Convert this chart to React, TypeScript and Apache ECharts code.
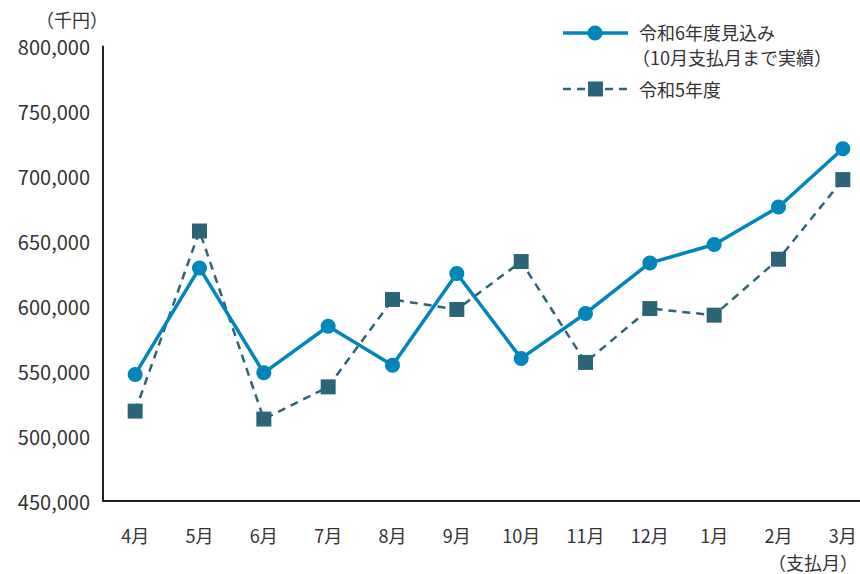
import React, { useEffect, useRef } from "react";
import * as echarts from "echarts";

const categories = ["4月", "5月", "6月", "7月", "8月", "9月", "10月", "11月", "12月", "1月", "2月", "3月"];
const seriesR6 = [547500, 629500, 548700, 584600, 554600, 625200, 559800, 594400, 633300, 647500, 676400, 721300];
const seriesR5 = [519200, 657900, 513100, 537900, 605200, 597500, 634400, 556700, 598200, 593100, 636200, 697500];
const yTicks = { min: 450000, max: 800000, interval: 50000 };
const legendR6 = ["令和6年度見込み", "（10月支払月まで実績）"];
const legendR5 = "令和5年度";
const unitLabel = "（千円）";
const xUnitLabel = "（支払月）";

const BLUE = "#0086BA";
const TEAL = "#2C6579";
const FONT = "'Noto Sans CJK JP', 'Noto Sans', sans-serif";
const TEXT = "#333333";

export default function App() {
  const ref = useRef<HTMLDivElement>(null);
  useEffect(() => {
    if (!ref.current) return;
    const chart = echarts.init(ref.current, undefined, { renderer: "svg" });
    chart.setOption({
      animation: false,
      backgroundColor: "#ffffff",
      textStyle: { fontFamily: FONT },
      grid: { left: 103, right: 5, top: 46.5, bottom: 73, containLabel: false },
      xAxis: {
        type: "category",
        data: categories,
        boundaryGap: true,
        axisLine: { lineStyle: { color: "#231f20", width: 2 } },
        axisTick: { show: false },
        axisLabel: { color: TEXT, fontSize: 18, margin: 25, fontFamily: FONT },
        splitLine: { show: false },
      },
      yAxis: {
        type: "value",
        min: yTicks.min,
        max: yTicks.max,
        interval: yTicks.interval,
        axisLine: { show: true, lineStyle: { color: "#231f20", width: 2 } },
        axisTick: { show: false },
        splitLine: { show: false },
        axisLabel: {
          color: TEXT,
          fontSize: 20,
          margin: 13,
          fontFamily: FONT,
          formatter: (v: number) => v.toLocaleString("en-US"),
        },
      },
      series: [
        {
          name: legendR5,
          type: "line",
          data: seriesR5,
          symbol: "rect",
          symbolSize: 15,
          lineStyle: { color: TEAL, width: 2.5, type: [8, 6] },
          itemStyle: { color: TEAL },
          z: 2,
        },
        {
          name: legendR6[0],
          type: "line",
          data: seriesR6,
          symbol: "circle",
          symbolSize: 15,
          lineStyle: { color: BLUE, width: 3.5 },
          itemStyle: { color: BLUE },
          z: 3,
        },
      ],
      graphic: [
        {
          type: "text",
          x: 36,
          y: 10,
          style: { text: unitLabel, fill: TEXT, fontSize: 18, fontFamily: FONT },
        },
        {
          type: "text",
          x: 858,
          y: 562,
          style: { text: xUnitLabel, fill: TEXT, fontSize: 18, lineHeight: 20, fontFamily: FONT, align: "right", verticalAlign: "middle" },
        },
        {
          type: "line",
          shape: { x1: 563, y1: 33, x2: 628, y2: 33 },
          style: { stroke: BLUE, lineWidth: 3.5 },
        },
        {
          type: "circle",
          shape: { cx: 595, cy: 33, r: 7.5 },
          style: { fill: BLUE },
        },
        {
          type: "text",
          x: 639,
          y: 32,
          style: { text: legendR6[0], fill: TEXT, fontSize: 18, lineHeight: 20, fontFamily: FONT, verticalAlign: "middle" },
        },
        {
          type: "text",
          x: 632,
          y: 57,
          style: { text: legendR6[1], fill: TEXT, fontSize: 18, lineHeight: 20, fontFamily: FONT, verticalAlign: "middle" },
        },
        {
          type: "line",
          shape: { x1: 563, y1: 89, x2: 628, y2: 89 },
          style: { stroke: TEAL, lineWidth: 2.5, lineDash: [8, 6] },
        },
        {
          type: "rect",
          shape: { x: 588, y: 81.5, width: 15, height: 15 },
          style: { fill: TEAL },
        },
        {
          type: "text",
          x: 639,
          y: 89,
          style: { text: legendR5, fill: TEXT, fontSize: 18, lineHeight: 20, fontFamily: FONT, verticalAlign: "middle" },
        },
      ],
    });
    return () => chart.dispose();
  }, []);
  return (
    <div style={{ position: "fixed", left: 0, top: 0, width: 860, height: 574, overflow: "hidden" }}>
      <div ref={ref} style={{ width: 880, height: 574 }} />
    </div>
  );
}
